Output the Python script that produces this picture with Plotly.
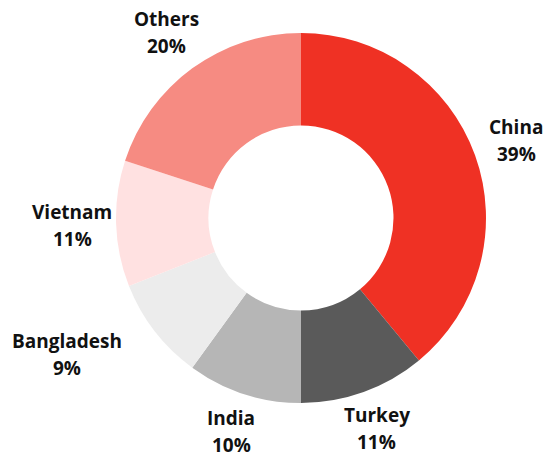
import math
import plotly.graph_objects as go

countries = ["China", "Turkey", "India", "Bangladesh", "Vietnam", "Others"]
shares = [39, 11, 10, 9, 11, 20]
colors = ["#EF3124", "#5A5A5A", "#B6B6B6", "#ECECEC", "#FFE1E1", "#F68B82"]

# label placement (style): radial distance in px and angular nudge in degrees
label_dist = [229, 224, 225, 271, 229, 229]
label_shift = [0, 0, 0, 7.5, 0, 0]

W, H = 555, 457
# page body has an 8px margin, so figure coords are offset by 8px
CX, CY, R = 293, 210, 185

fig = go.Figure(go.Pie(
    labels=countries, values=shares, sort=False, direction="clockwise",
    rotation=0, hole=0.5, textinfo="none", hoverinfo="label+percent",
    marker=dict(colors=colors, line=dict(width=0)),
    domain=dict(x=[(CX - R) / W, (CX + R) / W], y=[1 - (CY + R) / H, 1 - (CY - R) / H]),
    showlegend=False,
))

total = sum(shares)
cum = 0
font = dict(family="'Open Sans', Lato, sans-serif", size=19, color="#111111")
for i, (name, v) in enumerate(zip(countries, shares)):
    mid = (cum + v / 2) / total * 360 + label_shift[i]
    cum += v
    a = math.radians(mid)
    px = CX + label_dist[i] * math.sin(a)
    py = CY - label_dist[i] * math.cos(a)
    for txt, off in ((f"<b>{name}</b>", -13.5), (f"<b>{round(v / total * 100)}%</b>", 13.5)):
        fig.add_annotation(x=px / W, y=1 - (py + off) / H, xref="paper", yref="paper",
                           text=txt, showarrow=False, font=font,
                           xanchor="center", yanchor="middle")

fig.update_layout(width=W, height=H, margin=dict(l=0, r=0, t=0, b=0),
                  paper_bgcolor="white", plot_bgcolor="white")
fig.write_html("out.html")
